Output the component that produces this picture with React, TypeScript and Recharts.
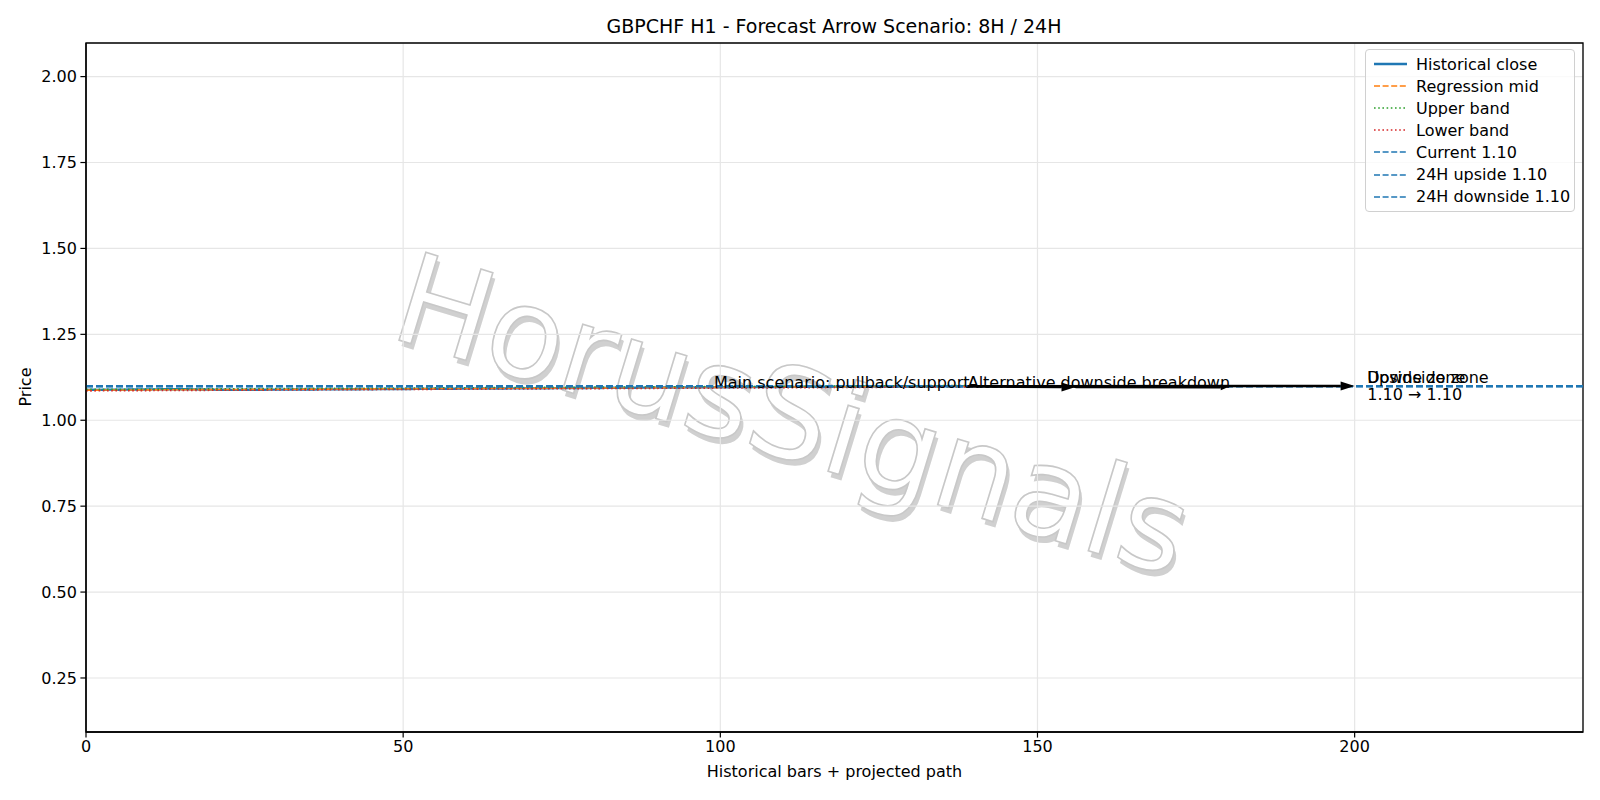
import React from 'react';
import {
  LineChart,
  Line,
  XAxis,
  YAxis,
  CartesianGrid,
  ReferenceLine,
  ReferenceDot,
  ReferenceArea,
  Legend,
  Label,
} from 'recharts';

const FONT = '"DejaVu Sans", sans-serif';
const BLUE = '#1f77b4';

// hourly closes, bars 0..139
const historicalClose = [
  1.0884, 1.0886, 1.0885, 1.0888, 1.089, 1.0889, 1.0892, 1.0894, 1.0893, 1.0896,
  1.0898, 1.0897, 1.09, 1.0902, 1.0901, 1.0903, 1.09, 1.0898, 1.0895, 1.0893,
  1.089, 1.0888, 1.0886, 1.0885, 1.0884, 1.0886, 1.0887, 1.0889, 1.0888, 1.089,
  1.0892, 1.0891, 1.0893, 1.0895, 1.0894, 1.0896, 1.0895, 1.0897, 1.0899, 1.0898,
  1.09, 1.0902, 1.0901, 1.0903, 1.0905, 1.0904, 1.0906, 1.0908, 1.0907, 1.0909,
  1.0911, 1.091, 1.0912, 1.0914, 1.0913, 1.0915, 1.0917, 1.0916, 1.0918, 1.092,
  1.0919, 1.0921, 1.0923, 1.0922, 1.0924, 1.0926, 1.0925, 1.0927, 1.0929, 1.0928,
  1.093, 1.0932, 1.0931, 1.0933, 1.0935, 1.0934, 1.0936, 1.0938, 1.0937, 1.0939,
  1.0941, 1.094, 1.0942, 1.0944, 1.0943, 1.0945, 1.0947, 1.0946, 1.0948, 1.095,
  1.0949, 1.0951, 1.0953, 1.0952, 1.0954, 1.0956, 1.0955, 1.0957, 1.0959, 1.0958,
  1.096, 1.0962, 1.0961, 1.0963, 1.0965, 1.0964, 1.0966, 1.0968, 1.0967, 1.0969,
  1.0971, 1.097, 1.0972, 1.0974, 1.0973, 1.0975, 1.0974, 1.0976, 1.0978, 1.0977,
  1.0979, 1.098, 1.0978, 1.0981, 1.0983, 1.0982, 1.0984, 1.0983, 1.0985, 1.0986,
  1.0984, 1.0986, 1.0987, 1.0985, 1.0987, 1.0988, 1.0986, 1.0987, 1.0989, 1.0988,
];

// regression channel, first and last bar
const regressionMid = [1.0876, 1.099];
const upperBand = [1.0897, 1.1011];
const lowerBand = [1.0855, 1.0969];

const levelNames = ['Current', '24H upside', '24H downside'];
const levelValues = [1.0988, 1.0999, 1.0981];

// forecast arrows
const arrowFromX = [139, 139, 156];
const arrowFromY = [1.0988, 1.0988, 1.0966];
const arrowToX = [156, 200, 180];
const arrowToY = [1.0966, 1.0999, 1.0962];

const noteLabels = ['Main scenario: pullback/support', 'Alternative downside breakdown'];
const noteX = [99, 139];
const noteY = [1.0988, 1.0988];

const zoneLabels = ['Upside zone', 'Downside zone'];
const zoneX = 202;
const zoneY = 1.0999;

const xTicks = [0, 50, 100, 150, 200];
const yTicks = [0.25, 0.5, 0.75, 1.0, 1.25, 1.5, 1.75, 2.0];
const xDomain = [0, 236];
const yDomain = [0.0928, 2.0978];

const lastBar = historicalClose.length - 1;
const chartData = historicalClose.map((close, i) => ({
  x: i,
  close,
  mid: i === 0 ? regressionMid[0] : i === lastBar ? regressionMid[1] : null,
  upper: i === 0 ? upperBand[0] : i === lastBar ? upperBand[1] : null,
  lower: i === 0 ? lowerBand[0] : i === lastBar ? lowerBand[1] : null,
}));

const legendLabels = [
  'Historical close',
  'Regression mid',
  'Upper band',
  'Lower band',
  ...levelNames.map((n, i) => `${n} ${levelValues[i].toFixed(2)}`),
];
const legendStyles = [
  { color: BLUE, dash: undefined, w: 2.4 },
  { color: '#ff7f0e', dash: '6 2.6', w: 1.6 },
  { color: '#2ca02c', dash: '1.6 2.6', w: 1.6 },
  { color: '#d62728', dash: '1.6 2.6', w: 1.6 },
  { color: BLUE, dash: '6 2.6', w: 1.6 },
  { color: BLUE, dash: '6 2.6', w: 1.6 },
  { color: BLUE, dash: '6 2.6', w: 1.6 },
];

const renderLegend = () => (
  <div
    style={{
      border: '1px solid #d0d0d0',
      borderRadius: 4,
      background: 'rgba(255,255,255,0.8)',
      padding: '3px 0 3px 8px',
      fontFamily: FONT,
      fontSize: 16,
      color: '#000',
      boxSizing: 'border-box',
      width: 210,
    }}
  >
    {legendLabels.map((label, i) => (
      <div key={label} style={{ display: 'flex', alignItems: 'center', height: 22.1 }}>
        <svg width={34} height={10} style={{ marginRight: 8, flexShrink: 0 }}>
          <line
            x1={0}
            x2={33}
            y1={5}
            y2={5}
            stroke={legendStyles[i].color}
            strokeWidth={legendStyles[i].w}
            strokeDasharray={legendStyles[i].dash}
          />
        </svg>
        <span style={{ whiteSpace: 'nowrap' }}>{label}</span>
      </div>
    ))}
  </div>
);

const arrowShape = (headLen: number, headW: number) => (props: any) => {
  const { x1, y1, x2, y2 } = props;
  if ([x1, y1, x2, y2].some((v) => typeof v !== 'number' || isNaN(v))) return <g />;
  const ang = Math.atan2(y2 - y1, x2 - x1);
  const bx = x2 - headLen * Math.cos(ang);
  const by = y2 - headLen * Math.sin(ang);
  const px = (-Math.sin(ang) * headW) / 2;
  const py = (Math.cos(ang) * headW) / 2;
  return (
    <g>
      <line x1={x1} y1={y1} x2={bx} y2={by} stroke="#000" strokeWidth={2.6} />
      <polygon points={`${x2},${y2} ${bx + px},${by + py} ${bx - px},${by - py}`} fill="#000" />
    </g>
  );
};

const noteShape = (text: string, dy: number) => (props: any) => (
  <text x={props.cx} y={props.cy + dy} fontFamily={FONT} fontSize={16} fill="#000">
    {text}
  </text>
);

const Watermark = () => (
  <svg width={1600} height={800} style={{ position: 'absolute', left: 0, top: 0 }}>
    <g transform="translate(793 415) rotate(17)">
      <text
        x={4}
        y={5}
        textAnchor="middle"
        dominantBaseline="central"
        fontFamily={FONT}
        fontSize={126}
        fill="#d0d0d0"
      >
        HorusSignals
      </text>
      <text
        x={0}
        y={0}
        textAnchor="middle"
        dominantBaseline="central"
        fontFamily={FONT}
        fontSize={126}
        fill="#ffffff"
        stroke="#c8c8c8"
        strokeWidth={1.6}
      >
        HorusSignals
      </text>
    </g>
  </svg>
);

export default function App() {
  return (
    <div style={{ position: 'absolute', left: 0, top: 0, width: 1600, height: 800, background: '#fff' }}>
      <Watermark />
      <div
        style={{
          position: 'absolute',
          left: 0,
          width: 1668,
          top: 15,
          textAlign: 'center',
          fontFamily: FONT,
          fontSize: 19,
          color: '#000',
        }}
      >
        GBPCHF H1 - Forecast Arrow Scenario: 8H / 24H
      </div>
      <LineChart
        width={1600}
        height={800}
        data={chartData}
        margin={{ top: 43, right: 17, left: 26, bottom: 28 }}
        style={{ position: 'absolute', left: 0, top: 0 }}
      >
        <CartesianGrid stroke="#e6e6e6" strokeWidth={1.2} />
        <XAxis
          dataKey="x"
          type="number"
          domain={xDomain}
          ticks={xTicks}
          allowDataOverflow
          height={40}
          tickSize={5.6}
          tickMargin={3.5}
          axisLine={{ stroke: '#000', strokeWidth: 1.3 }}
          tickLine={{ stroke: '#000', strokeWidth: 1.2 }}
          tick={{ fill: '#000', fontFamily: FONT, fontSize: 16 }}
        >
          <Label
            value="Historical bars + projected path"
            position="insideBottom"
            offset={-4.5}
            style={{ fill: '#000', fontFamily: FONT, fontSize: 16 }}
          />
        </XAxis>
        <YAxis
          type="number"
          domain={yDomain}
          ticks={yTicks}
          allowDataOverflow
          width={60}
          tickSize={5.6}
          tickMargin={3.5}
          tickFormatter={(v: number) => v.toFixed(2)}
          axisLine={{ stroke: '#000', strokeWidth: 1.3 }}
          tickLine={{ stroke: '#000', strokeWidth: 1.2 }}
          tick={{ fill: '#000', fontFamily: FONT, fontSize: 16 }}
        >
          <Label
            content={() => (
              <text
                x={25.5}
                y={387}
                transform="rotate(-90 25.5 387)"
                textAnchor="middle"
                dominantBaseline="central"
                fontFamily={FONT}
                fontSize={16}
                fill="#000"
              >
                Price
              </text>
            )}
          />
        </YAxis>
        <ReferenceArea
          x1={xDomain[0]}
          x2={xDomain[1]}
          y1={yDomain[0]}
          y2={yDomain[1]}
          fill="none"
          fillOpacity={0}
          stroke="#000"
          strokeWidth={1.3}
          ifOverflow="extendDomain"
        />
        <Line
          dataKey="close"
          stroke={BLUE}
          strokeWidth={2.4}
          dot={false}
          isAnimationActive={false}
        />
        <Line
          dataKey="mid"
          stroke="#ff7f0e"
          strokeWidth={1.6}
          strokeDasharray="6 2.6"
          dot={false}
          connectNulls
          isAnimationActive={false}
        />
        <Line
          dataKey="upper"
          stroke="#2ca02c"
          strokeWidth={1.6}
          strokeDasharray="1.6 2.6"
          dot={false}
          connectNulls
          isAnimationActive={false}
        />
        <Line
          dataKey="lower"
          stroke="#d62728"
          strokeWidth={1.6}
          strokeDasharray="1.6 2.6"
          dot={false}
          connectNulls
          isAnimationActive={false}
        />
        {levelValues.map((v, i) => (
          <ReferenceLine
            key={levelNames[i]}
            y={v}
            stroke={BLUE}
            strokeWidth={1.8}
            strokeDasharray="7 3"
          />
        ))}
        {arrowFromX.map((fx, i) => (
          <ReferenceLine
            key={`arrow-${i}`}
            segment={[
              { x: fx, y: arrowFromY[i] },
              { x: arrowToX[i], y: arrowToY[i] },
            ]}
            shape={arrowShape(i === 2 ? 7 : 14, i === 2 ? 6 : 9)}
          />
        ))}
        {noteLabels.map((t, i) => (
          <ReferenceDot key={t} x={noteX[i]} y={noteY[i]} r={0} shape={noteShape(t, 2)} />
        ))}
        {zoneLabels.map((t) => (
          <ReferenceDot key={t} x={zoneX} y={zoneY} r={0} shape={noteShape(t, -3)} />
        ))}
        <ReferenceDot
          x={zoneX}
          y={zoneY}
          r={0}
          shape={noteShape(`${levelValues[1].toFixed(2)} \u2192 ${levelValues[2].toFixed(2)}`, 14)}
        />
        <Legend
          layout="vertical"
          align="center"
          verticalAlign="middle"
          content={renderLegend}
          wrapperStyle={{ top: 49, left: 1365, width: 210, height: 'auto' }}
        />
      </LineChart>
    </div>
  );
}
